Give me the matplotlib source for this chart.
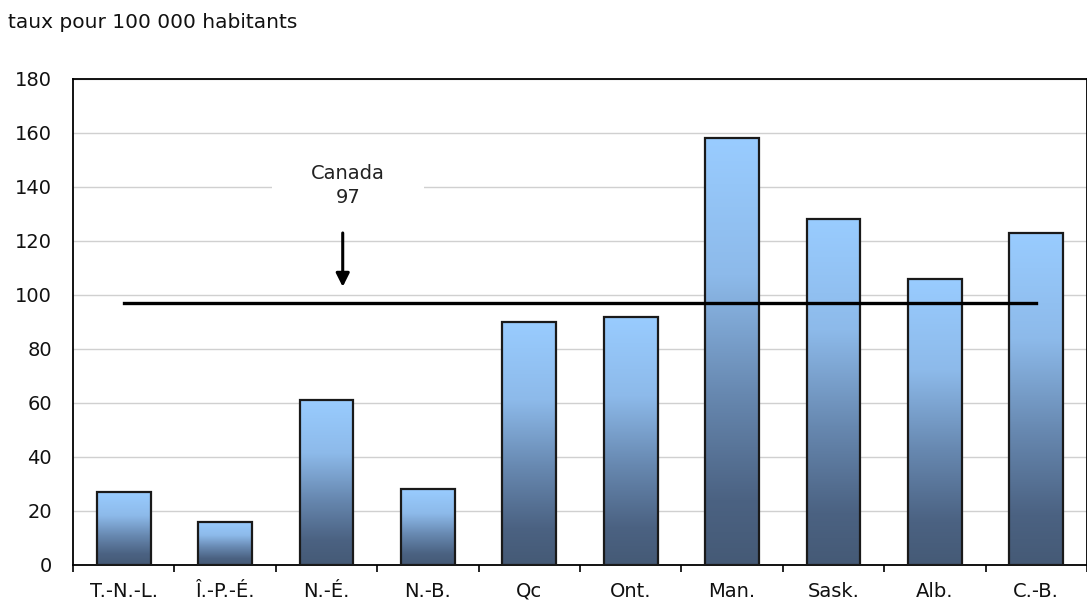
import numpy as np
import matplotlib.pyplot as plt
from matplotlib.colors import LinearSegmentedColormap

# Taux par province
provinces = ['T.-N.-L.', 'Î.-P.-É.', 'N.-É.', 'N.-B.', 'Qc', 'Ont.', 'Man.', 'Sask.', 'Alb.', 'C.-B.']
taux = [27, 16, 61, 28, 90, 92, 158, 128, 106, 123]
canada = 97

plt.rcParams['font.family'] = ['Verdana', 'DejaVu Sans']

fig = plt.figure(figsize=(10.87, 6.05), dpi=100)
ax = fig.add_axes([73 / 1087, 40 / 605, 1014 / 1087, 486 / 605])

# Dégradé bleu clair (haut) -> bleu foncé (bas)
cmap = LinearSegmentedColormap.from_list(
    'bleu', [(0, '#455a76'), (0.15, '#4b6282'), (0.4, '#6788b0'), (0.68, '#8dbaea'), (1, '#99ccff')])
grad = np.linspace(0, 1, 256).reshape(-1, 1)

x = np.arange(len(provinces))
bars = ax.bar(x, taux, width=0.53, color='none', edgecolor='#1a1a1a', linewidth=1.6, zorder=3)
for b in bars:
    im = ax.imshow(grad, cmap=cmap, origin='lower', aspect='auto',
                   extent=[b.get_x(), b.get_x() + b.get_width(), 0, b.get_height()], zorder=2)
    im.set_clip_path(b)

# Ligne Canada
ax.plot([x[0], x[-1]], [canada, canada], color='black', linewidth=2.4, zorder=4)
ax.annotate('', xy=(2.16, 102), xytext=(2.16, 124),
            arrowprops=dict(arrowstyle='-|>', color='black', lw=2.2, mutation_scale=20), zorder=5)
tx, ty = 2.21, 140.5
ax.hlines(140, tx - 0.75, tx + 0.75, color='white', linewidth=4, zorder=1.5)
ax.text(tx, ty, 'Canada\n97', ha='center', va='center', fontsize=14, color='#222222',
        linespacing=1.3, zorder=5)

ax.set_xlim(-0.5, len(provinces) - 0.5)
ax.set_ylim(0, 180)
ax.set_yticks(range(0, 181, 20))
ax.yaxis.grid(True, color='#d0d0d0', linewidth=1.0, zorder=1)
ax.set_axisbelow(True)
ax.tick_params(axis='y', length=0, labelsize=14, pad=15, labelcolor='#111111')

ax.set_xticks(x)
ax.set_xticklabels(provinces, fontsize=14, color='#111111')
ax.set_xticks(np.arange(-0.5, len(provinces)), minor=True)
ax.tick_params(axis='x', which='major', length=0, pad=12)
ax.tick_params(axis='x', which='minor', length=5, width=1.2, direction='out')

for s in ax.spines.values():
    s.set_color('black')
    s.set_linewidth(1.3)

fig.text(8 / 1087, 1 - 22 / 605, 'taux pour 100 000 habitants', fontsize=14.5,
         va='center', ha='left', color='#111111')

plt.savefig('out.png', dpi=100)
